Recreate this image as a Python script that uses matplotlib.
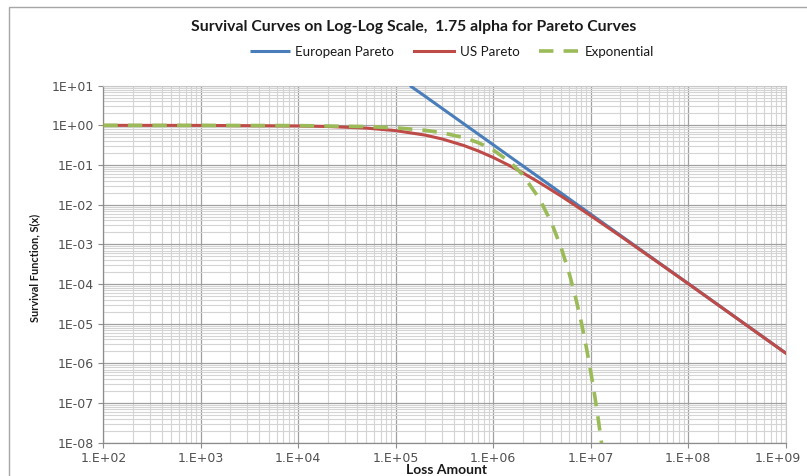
import matplotlib
matplotlib.use("Agg")
import matplotlib.pyplot as plt
import matplotlib.transforms as mtransforms
from matplotlib.patches import Rectangle
from matplotlib.ticker import LogLocator, FixedLocator, NullFormatter

# ---- data ----
us_x = [1e2, 1e3, 1e4, 2e4, 5e4, 1e5, 2e5, 3e5, 5e5, 7e5, 1e6, 1.5e6, 2e6, 3e6,
        5e6, 7e6, 1e7, 2e7, 5e7, 1e8, 3e8, 1e9]
us_y = [1.0, 0.997, 0.968, 0.937, 0.853, 0.737, 0.568, 0.453, 0.310, 0.227, 0.155,
        0.0942, 0.0640, 0.0357, 0.0163, 0.00947, 0.00527, 0.00164, 3.39e-4,
        1.02e-4, 1.49e-5, 1.81e-6]

eu_x = [1.4e5, 2e5, 3e5, 5e5, 7e5, 1e6, 1.5e6, 2e6, 3e6, 5e6, 7e6, 1e7, 2e7,
        5e7, 1e8, 3e8, 1e9]
eu_y = [10.0, 5.41, 2.66, 1.089, 0.605, 0.324, 0.159, 0.0963, 0.0474, 0.0194,
        0.01075, 0.00576, 0.00171, 3.45e-4, 1.03e-4, 1.50e-5, 1.82e-6]

exp_x = [1e2, 1e3, 1e4, 5e4, 1e5, 2e5, 3e5, 5e5, 7e5, 1e6, 1.5e6, 2e6, 3e6, 4e6,
         5e6, 6e6, 7e6, 8e6, 9e6, 1e7, 1.1e7, 1.2e7, 1.3e7]
exp_y = [1.0, 0.9986, 0.986, 0.931, 0.867, 0.751, 0.651, 0.490, 0.368, 0.240,
         0.117, 0.0574, 0.01376, 0.0033, 7.9e-4, 1.9e-4, 4.54e-5, 1.09e-5,
         2.6e-6, 6.2e-7, 1.5e-7, 3.6e-8, 8.6e-9]

series_names = ["European Pareto", "US Pareto", "Exponential"]
x_ticks = [1e2, 1e3, 1e4, 1e5, 1e6, 1e7, 1e8, 1e9]
x_labels = ["1.E+02", "1.E+03", "1.E+04", "1.E+05", "1.E+06", "1.E+07", "1.E+08", "1.E+09"]
y_ticks = [1e1, 1e0, 1e-1, 1e-2, 1e-3, 1e-4, 1e-5, 1e-6, 1e-7, 1e-8]
y_labels = ["1E+01", "1E+00", "1E-01", "1E-02", "1E-03", "1E-04", "1E-05", "1E-06",
            "1E-07", "1E-08"]

title = "Survival Curves on Log-Log Scale,  1.75 alpha for Pareto Curves"
xlabel = "Loss Amount"
ylabel = "Survival Function, S(x)"

# ---- figure ----
W, H = 807, 476
fig = plt.figure(figsize=(W / 100, H / 100), dpi=100)
fig.patch.set_facecolor("white")

# chart-area border
fig.patches.append(Rectangle((9 / W, -0.05), 1.2, 1 - 7 / H + 0.05,
                             transform=fig.transFigure, fill=False,
                             edgecolor="#a6a6a6", linewidth=1.0))

left, right = 103.3 / W, 785.7 / W
bottom, top = 1 - 442.7 / H, 1 - 85.7 / H
ax = fig.add_axes([left, bottom, right - left, top - bottom])
ax.set_xscale("log")
ax.set_yscale("log")
ax.set_xlim(1e2, 1e9)
ax.set_ylim(1e-8, 1e1)

blue = "#4a7ebb"
red = "#be4b48"
green = "#9bbb59"

l1, = ax.plot(eu_x, eu_y, color=blue, lw=2.2, solid_capstyle="butt", zorder=3)
l2, = ax.plot(us_x, us_y, color=red, lw=2.2, zorder=4)
l3, = ax.plot(exp_x, exp_y, color=green, lw=2.6, dashes=(4, 2.8), zorder=5)

# grids
ax.xaxis.set_major_locator(FixedLocator(x_ticks))
ax.yaxis.set_major_locator(FixedLocator(y_ticks))
ax.xaxis.set_minor_locator(LogLocator(base=10, subs=range(2, 10), numticks=50))
ax.yaxis.set_minor_locator(LogLocator(base=10, subs=range(2, 10), numticks=50))
ax.xaxis.set_minor_formatter(NullFormatter())
ax.yaxis.set_minor_formatter(NullFormatter())
ax.set_xticklabels(x_labels)
ax.set_yticklabels(y_labels)
ax.grid(True, which="major", color="#a0a0a0", lw=0.9, zorder=0)
ax.grid(True, which="minor", color="#d4d4d4", lw=0.8, zorder=0)
ax.set_axisbelow(True)

tick_color = "#505050"
ax.tick_params(which="major", direction="out", length=3.5, width=0.8,
               color="#8c8c8c", labelsize=9, labelcolor=tick_color, pad=3)
ax.tick_params(which="minor", length=0)
for lab in ax.get_xticklabels() + ax.get_yticklabels():
    lab.set_family("DejaVu Sans")
# keep the last x label inside the picture
last = ax.get_xticklabels()[-1]
last.set_transform(last.get_transform() +
                   mtransforms.ScaledTranslation(-6 / 72, 0, fig.dpi_scale_trans))

for s in ["left", "bottom"]:
    ax.spines[s].set_color("#8c8c8c")
    ax.spines[s].set_linewidth(0.9)
for s in ["top", "right"]:
    ax.spines[s].set_color("#c8c8c8")
    ax.spines[s].set_linewidth(0.8)

# texts
fig.text(414 / W, 1 - 27 / H, title, ha="center", va="center",
         fontsize=11.3, fontweight="bold", family="Lato", color="#1a1a1a")
fig.text(446 / W, 1 - 470 / H, xlabel, ha="center", va="center",
         fontsize=10, fontweight="bold", family="Lato", color="#1a1a1a")
fig.text(35 / W, 1 - 268 / H, ylabel, ha="center", va="center", rotation=90,
         fontsize=7.9, fontweight="bold", family="Lato", color="#1a1a1a")

leg = fig.legend([l1, l2, l3], series_names, loc="center",
                 bbox_to_anchor=(452 / W, 1 - 52 / H), ncol=3, frameon=False,
                 prop={"family": "Lato", "size": 9.6}, handlelength=3.0,
                 handletextpad=0.4, columnspacing=1.5)
for t in leg.get_texts():
    t.set_color("#1a1a1a")

fig.savefig("out.png", dpi=100, facecolor="white")
